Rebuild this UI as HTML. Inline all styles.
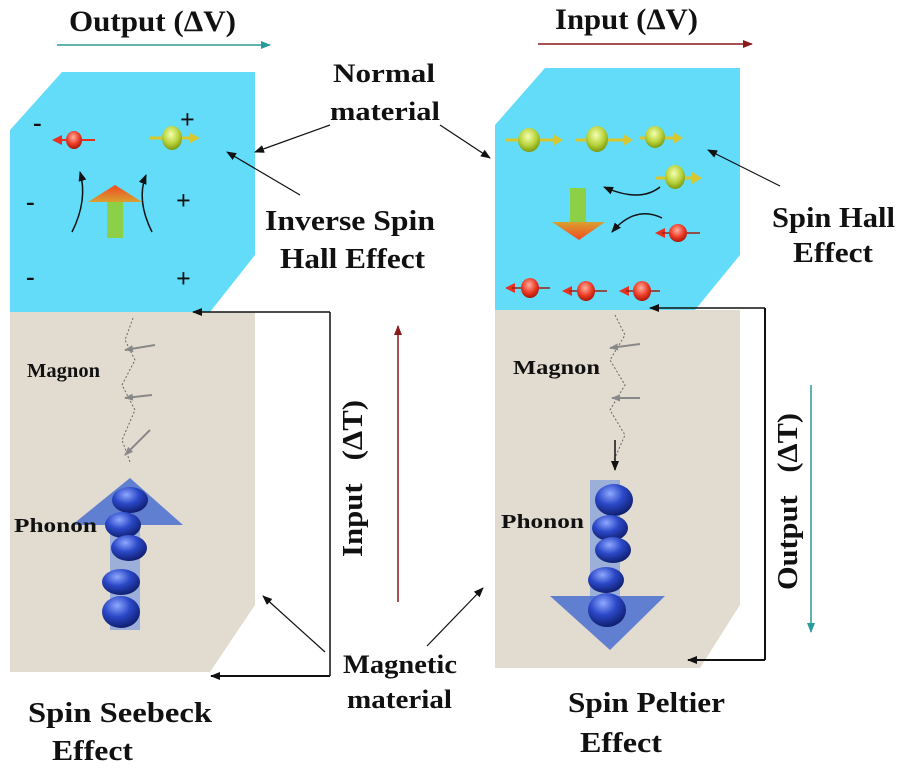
<!DOCTYPE html>
<html><head><meta charset="utf-8"><style>
body{margin:0;background:#fff}
svg{display:block}
text{font-family:"Liberation Serif",serif;font-weight:bold;fill:#111}
</style></head><body>
<svg width="900" height="770" viewBox="0 0 900 770" xmlns="http://www.w3.org/2000/svg">
<defs>
<radialGradient id="bl" cx="0.4" cy="0.3" r="0.7"><stop offset="0" stop-color="#8fa8ff"/><stop offset="0.5" stop-color="#2b48c8"/><stop offset="1" stop-color="#101f70"/></radialGradient>
<radialGradient id="gr" cx="0.45" cy="0.35" r="0.65"><stop offset="0" stop-color="#f4ffb0"/><stop offset="0.6" stop-color="#b8d23a"/><stop offset="1" stop-color="#7d9a10"/></radialGradient>
<radialGradient id="rd" cx="0.45" cy="0.35" r="0.65"><stop offset="0" stop-color="#ffb0a0"/><stop offset="0.6" stop-color="#ec3a26"/><stop offset="1" stop-color="#a81808"/></radialGradient>
<linearGradient id="og" x1="0" y1="1" x2="0" y2="0"><stop offset="0" stop-color="#d9a030"/><stop offset="1" stop-color="#f04a20"/></linearGradient>
<linearGradient id="ogd" x1="0" y1="0" x2="0" y2="1"><stop offset="0" stop-color="#d9a030"/><stop offset="1" stop-color="#f04a20"/></linearGradient>
<marker id="ah" markerWidth="10" markerHeight="8" refX="9" refY="4" orient="auto" markerUnits="userSpaceOnUse"><path d="M0,0 L10,4 L0,8 z" fill="#111"/></marker>
<marker id="ahr" markerWidth="10" markerHeight="8" refX="9" refY="4" orient="auto" markerUnits="userSpaceOnUse"><path d="M0,0 L10,4 L0,8 z" fill="#8b1a1a"/></marker>
<marker id="aht" markerWidth="10" markerHeight="8" refX="9" refY="4" orient="auto" markerUnits="userSpaceOnUse"><path d="M0,0 L10,4 L0,8 z" fill="#2a9a9a"/></marker>
<marker id="ahg" markerWidth="9" markerHeight="7" refX="8" refY="3.5" orient="auto" markerUnits="userSpaceOnUse"><path d="M0,0 L9,3.5 L0,7 z" fill="#888"/></marker>
</defs>

<path d="M10,312 L255,312 L255,605 L210,672 L10,672 Z" fill="#e2dcd0"/>
<path d="M10,130 L62,72 L255,72 L255,255 L210,312 L10,312 Z" fill="#62dcf9"/>
<path d="M495,310 L740,310 L740,605 L700,668 L495,668 Z" fill="#e2dcd0"/>
<path d="M495,125 L545,68 L740,68 L740,255 L695,310 L495,310 Z" fill="#62dcf9"/>

<line x1="57" y1="45" x2="270" y2="45" stroke="#2a9a9a" stroke-width="1.5" marker-end="url(#aht)"/>
<text x="69" y="31" font-size="30" textLength="167" lengthAdjust="spacingAndGlyphs">Output (ΔV)</text>
<line x1="538" y1="44" x2="752" y2="44" stroke="#8b1a1a" stroke-width="1.5" marker-end="url(#ahr)"/>
<text x="555" y="29" font-size="30" textLength="143" lengthAdjust="spacingAndGlyphs">Input (ΔV)</text>

<g font-size="26">
<text x="33" y="131">-</text><text x="26" y="210">-</text><text x="26" y="285">-</text>
<text x="180" y="128">+</text><text x="176" y="209">+</text><text x="176" y="287">+</text>
</g>
<path d="M52,140 L62,135 L62,145 Z" fill="#e83020"/><line x1="60" y1="140" x2="95" y2="140" stroke="#e83020" stroke-width="2"/><ellipse cx="74" cy="140" rx="8" ry="9" fill="url(#rd)"/>
<line x1="150" y1="138" x2="195" y2="138" stroke="#d8c830" stroke-width="3"/><path d="M190,133 L200,138 L190,143Z" fill="#d8c830"/><ellipse cx="172" cy="138" rx="10" ry="12" fill="url(#gr)"/>
<rect x="107" y="200" width="16" height="38" fill="#8cd048"/><path d="M88,202 L115,185 L142,202 Z" fill="url(#og)"/>
<path d="M72,232 Q88,200 80,172" fill="none" stroke="#111" stroke-width="1.5" marker-end="url(#ah)"/>
<path d="M152,232 Q136,200 146,175" fill="none" stroke="#111" stroke-width="1.5" marker-end="url(#ah)"/>

<g>
<line x1="505" y1="140" x2="560" y2="140" stroke="#d8c830" stroke-width="3"/><path d="M553,134 L563,140 L553,146Z" fill="#d8c830"/><ellipse cx="529" cy="140" rx="11" ry="12" fill="url(#gr)"/>
<line x1="575" y1="140" x2="630" y2="140" stroke="#d8c830" stroke-width="3"/><path d="M623,134 L633,140 L623,146Z" fill="#d8c830"/><ellipse cx="597" cy="139" rx="11" ry="13" fill="url(#gr)"/>
<line x1="640" y1="138" x2="680" y2="138" stroke="#d8c830" stroke-width="3"/><path d="M673,132 L683,138 L673,144Z" fill="#d8c830"/><ellipse cx="655" cy="137" rx="10" ry="11" fill="url(#gr)"/>
<line x1="655" y1="178" x2="700" y2="178" stroke="#d8c830" stroke-width="3"/><path d="M692,172 L702,178 L692,184Z" fill="#d8c830"/><ellipse cx="675" cy="177" rx="10" ry="12" fill="url(#gr)"/>
<rect x="570" y="188" width="16" height="35" fill="#8cd048"/><path d="M552,222 L605,222 L579,240 Z" fill="url(#ogd)"/>
<path d="M660,187 Q640,203 604,187" fill="none" stroke="#111" stroke-width="1.5" marker-end="url(#ah)"/>
<path d="M662,218 Q635,205 612,232" fill="none" stroke="#111" stroke-width="1.5" marker-end="url(#ah)"/>
<path d="M655,233 L665,228 L665,238Z" fill="#e83020"/><line x1="662" y1="233" x2="700" y2="233" stroke="#a02010" stroke-width="1.5"/><ellipse cx="678" cy="233" rx="9" ry="9" fill="url(#rd)"/>
<path d="M505,288 L515,283 L515,293Z" fill="#e83020"/><line x1="512" y1="288" x2="550" y2="288" stroke="#a02010" stroke-width="1.5"/><ellipse cx="530" cy="288" rx="9" ry="10" fill="url(#rd)"/>
<path d="M562,291 L572,286 L572,296Z" fill="#e83020"/><line x1="569" y1="291" x2="607" y2="291" stroke="#a02010" stroke-width="1.5"/><ellipse cx="586" cy="291" rx="9" ry="10" fill="url(#rd)"/>
<path d="M619,291 L629,286 L629,296Z" fill="#e83020"/><line x1="626" y1="291" x2="660" y2="291" stroke="#a02010" stroke-width="1.5"/><ellipse cx="642" cy="291" rx="9" ry="10" fill="url(#rd)"/>
</g>

<path d="M133,318 L125,340 L135,360 L122,385 L135,410 L122,440 L130,462" fill="none" stroke="#666" stroke-width="1" stroke-dasharray="2,2"/>
<line x1="155" y1="345" x2="125" y2="350" stroke="#888" stroke-width="2" marker-end="url(#ahg)"/>
<line x1="152" y1="395" x2="125" y2="398" stroke="#888" stroke-width="2" marker-end="url(#ahg)"/>
<line x1="150" y1="430" x2="125" y2="455" stroke="#888" stroke-width="2" marker-end="url(#ahg)"/>
<path d="M615,315 L625,335 L610,360 L625,385 L610,410 L625,435 L614,460" fill="none" stroke="#666" stroke-width="1" stroke-dasharray="2,2"/>
<line x1="640" y1="344" x2="610" y2="348" stroke="#888" stroke-width="2" marker-end="url(#ahg)"/>
<line x1="640" y1="398" x2="612" y2="398" stroke="#888" stroke-width="2" marker-end="url(#ahg)"/>
<line x1="615" y1="440" x2="615" y2="470" stroke="#111" stroke-width="1.5" marker-end="url(#ah)"/>
<text x="27" y="377" font-size="20" textLength="73" lengthAdjust="spacingAndGlyphs">Magnon</text>
<text x="513" y="374" font-size="20" textLength="87" lengthAdjust="spacingAndGlyphs">Magnon</text>

<path d="M72,525 L130,478 L183,525 Z" fill="#4a6fd0" opacity="0.85"/>
<rect x="110" y="520" width="30" height="110" fill="#7f9bdc" opacity="0.7"/>
<ellipse cx="130" cy="500" rx="18" ry="13" fill="url(#bl)"/>
<ellipse cx="123" cy="525" rx="18" ry="13" fill="url(#bl)"/>
<ellipse cx="129" cy="548" rx="18" ry="13" fill="url(#bl)"/>
<ellipse cx="121" cy="582" rx="19" ry="13" fill="url(#bl)"/>
<ellipse cx="121" cy="612" rx="19" ry="16" fill="url(#bl)"/>
<text x="14" y="532" font-size="20" textLength="83" lengthAdjust="spacingAndGlyphs">Phonon</text>

<rect x="590" y="480" width="30" height="120" fill="#7f9bdc" opacity="0.7"/>
<path d="M550,596 L665,596 L610,650 Z" fill="#4a6fd0" opacity="0.85"/>
<ellipse cx="614" cy="500" rx="19" ry="16" fill="url(#bl)"/>
<ellipse cx="610" cy="528" rx="18" ry="13" fill="url(#bl)"/>
<ellipse cx="613" cy="550" rx="18" ry="13" fill="url(#bl)"/>
<ellipse cx="606" cy="580" rx="18" ry="13" fill="url(#bl)"/>
<ellipse cx="607" cy="610" rx="19" ry="17" fill="url(#bl)"/>
<text x="501" y="528" font-size="20" textLength="83" lengthAdjust="spacingAndGlyphs">Phonon</text>

<line x1="330" y1="312" x2="330" y2="676" stroke="#111" stroke-width="1.5"/>
<line x1="330" y1="312" x2="193" y2="312" stroke="#111" stroke-width="1.5" marker-end="url(#ah)"/>
<line x1="330" y1="676" x2="211" y2="676" stroke="#111" stroke-width="2" marker-end="url(#ah)"/>
<line x1="765" y1="308" x2="765" y2="660" stroke="#111" stroke-width="2"/>
<line x1="765" y1="308" x2="650" y2="308" stroke="#111" stroke-width="1.5" marker-end="url(#ah)"/>
<line x1="765" y1="660" x2="688" y2="660" stroke="#111" stroke-width="2" marker-end="url(#ah)"/>

<line x1="398" y1="602" x2="398" y2="326" stroke="#8b1a1a" stroke-width="1.5" marker-end="url(#ahr)"/>
<line x1="811" y1="385" x2="811" y2="632" stroke="#2a9a9a" stroke-width="1.5" marker-end="url(#aht)"/>
<text transform="translate(362,557) rotate(-90)" font-size="28" textLength="157" lengthAdjust="spacingAndGlyphs" xml:space="preserve">Input   (ΔT)</text>
<text transform="translate(797,590) rotate(-90)" font-size="28" textLength="177" lengthAdjust="spacingAndGlyphs" xml:space="preserve">Output   (ΔT)</text>

<text x="333" y="82" font-size="26" textLength="102" lengthAdjust="spacingAndGlyphs">Normal</text>
<text x="330" y="120" font-size="26" textLength="110" lengthAdjust="spacingAndGlyphs">material</text>
<line x1="330" y1="125" x2="255" y2="152" stroke="#111" stroke-width="1.2" marker-end="url(#ah)"/>
<line x1="440" y1="125" x2="490" y2="158" stroke="#111" stroke-width="1.2" marker-end="url(#ah)"/>
<text x="265" y="230" font-size="28" textLength="170" lengthAdjust="spacingAndGlyphs">Inverse Spin</text>
<text x="280" y="268" font-size="28" textLength="145" lengthAdjust="spacingAndGlyphs">Hall Effect</text>
<line x1="300" y1="195" x2="227" y2="152" stroke="#111" stroke-width="1.2" marker-end="url(#ah)"/>
<text x="772" y="227" font-size="28" textLength="123" lengthAdjust="spacingAndGlyphs">Spin Hall</text>
<text x="793" y="262" font-size="28" textLength="80" lengthAdjust="spacingAndGlyphs">Effect</text>
<line x1="780" y1="186" x2="708" y2="150" stroke="#111" stroke-width="1.2" marker-end="url(#ah)"/>
<text x="343" y="673" font-size="26" textLength="114" lengthAdjust="spacingAndGlyphs">Magnetic</text>
<text x="347" y="708" font-size="26" textLength="105" lengthAdjust="spacingAndGlyphs">material</text>
<line x1="325" y1="652" x2="263" y2="596" stroke="#111" stroke-width="1.2" marker-end="url(#ah)"/>
<line x1="427" y1="646" x2="483" y2="588" stroke="#111" stroke-width="1.2" marker-end="url(#ah)"/>
<text x="28" y="722" font-size="28" textLength="184" lengthAdjust="spacingAndGlyphs">Spin Seebeck</text>
<text x="52" y="760" font-size="28" textLength="81" lengthAdjust="spacingAndGlyphs">Effect</text>
<text x="568" y="712" font-size="28" textLength="157" lengthAdjust="spacingAndGlyphs">Spin Peltier</text>
<text x="580" y="752" font-size="28" textLength="82" lengthAdjust="spacingAndGlyphs">Effect</text>
</svg>
</body></html>
